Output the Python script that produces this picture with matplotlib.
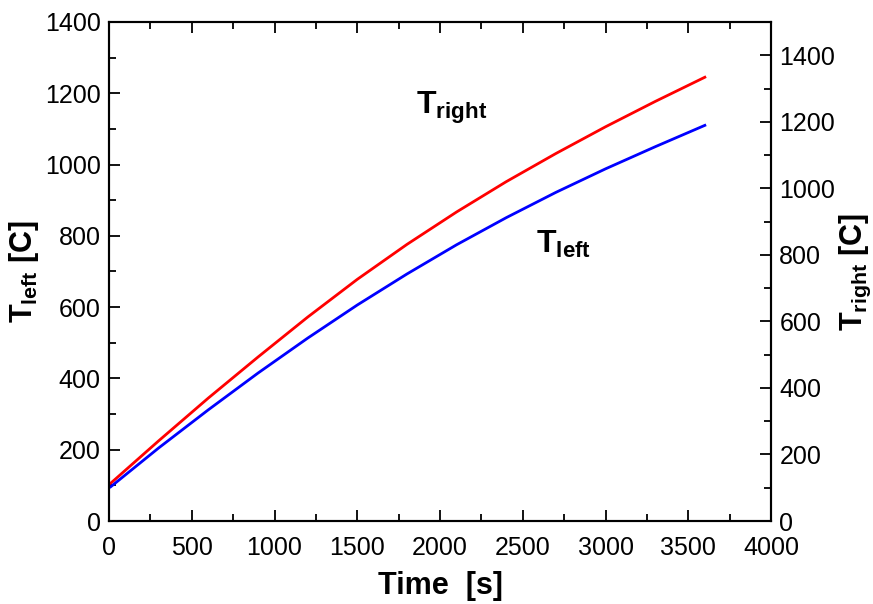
import matplotlib
matplotlib.use("Agg")
import matplotlib.pyplot as plt
from matplotlib.ticker import MultipleLocator

plt.rcParams['font.family'] = ['Liberation Sans', 'DejaVu Sans']
plt.rcParams['mathtext.fontset'] = 'custom'
plt.rcParams['mathtext.rm'] = 'Liberation Sans'
plt.rcParams['mathtext.bf'] = 'Liberation Sans:bold'

# data
time_s = [10, 300, 600, 900, 1200, 1500, 1800, 2100, 2400, 2700, 3000, 3300, 3600]
t_right = [106, 225, 345, 460, 572, 678, 776, 867, 952, 1031, 1106, 1177, 1245]
t_left = [96, 205, 312, 415, 513, 606, 693, 775, 851, 922, 988, 1050, 1110]

fig = plt.figure(figsize=(8.73, 6.04), dpi=100)
ax = fig.add_axes([0.1249, 0.1374, 0.7583, 0.8262])
ax2 = ax.twinx()

ax.plot(time_s, t_right, color='#ff0000', lw=2.0)
ax.plot(time_s, t_left, color='#0000ff', lw=2.0)

ax.set_xlim(0, 4000)
ax.set_ylim(0, 1400)
ax2.set_ylim(0, 1500)

ax.xaxis.set_major_locator(MultipleLocator(500))
ax.xaxis.set_minor_locator(MultipleLocator(250))
ax.yaxis.set_major_locator(MultipleLocator(200))
ax.yaxis.set_minor_locator(MultipleLocator(100))
ax2.set_yticks(range(0, 1401, 200))
ax2.yaxis.set_minor_locator(MultipleLocator(100))

ax.tick_params(which='both', direction='in', top=True, right=False, width=1.3, labelsize=18)
ax.tick_params(axis='y', pad=6)
ax.tick_params(axis='x', pad=11)
ax.tick_params(which='major', length=8)
ax.tick_params(which='minor', length=5)
ax2.tick_params(which='both', direction='in', width=1.3, labelsize=18, pad=6)
ax2.tick_params(which='major', length=8)
ax2.tick_params(which='minor', length=5)

for a in (ax, ax2):
    for sp in a.spines.values():
        sp.set_linewidth(1.5)

ax.set_xlabel('Time  [s]', fontsize=22, fontweight='bold', labelpad=8)
ax.set_ylabel(r'$\mathbf{T_{left}}$ [C]', fontsize=22, fontweight='bold', labelpad=3)
ax2.set_ylabel(r'$\mathbf{T_{right}}$ [C]', fontsize=22, fontweight='bold', labelpad=2)

ax.text(1855, 1141, r'$\mathbf{T_{right}}$', fontsize=23)
ax.text(2580, 753, r'$\mathbf{T_{left}}$', fontsize=23)

fig.savefig('out.png', dpi=100)
